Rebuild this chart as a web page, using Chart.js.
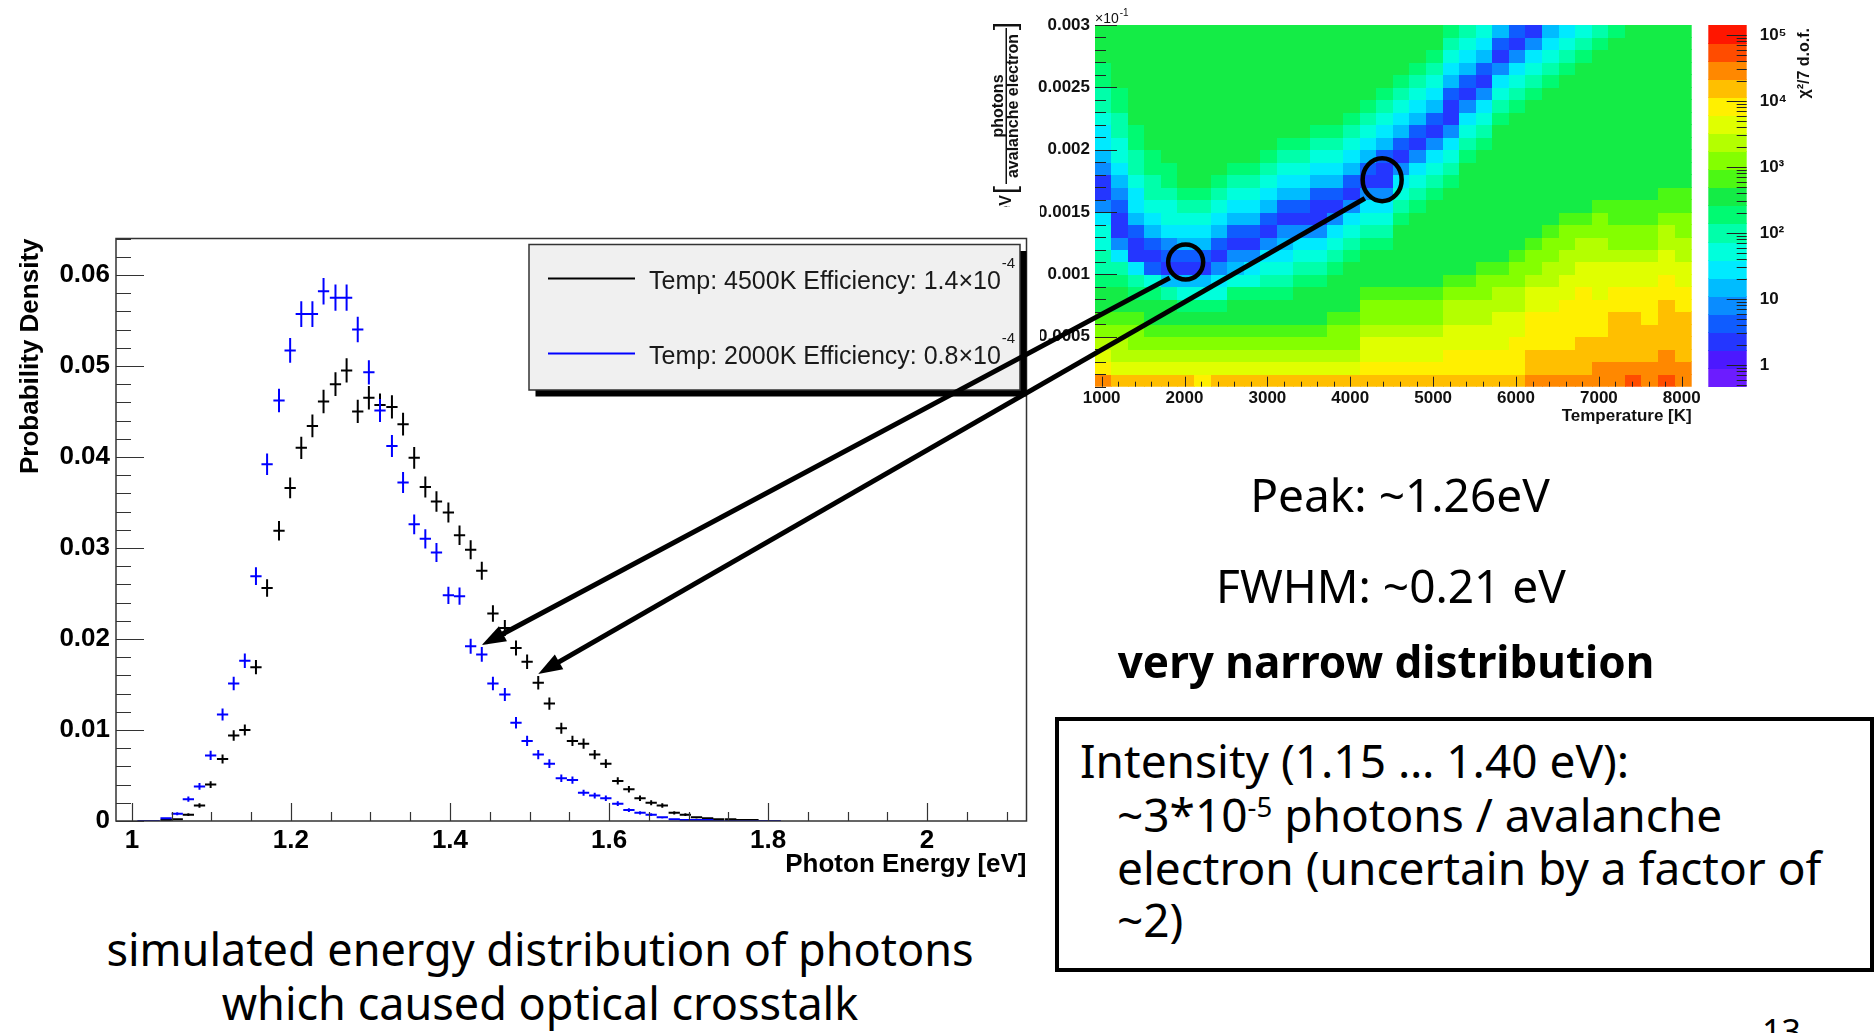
<!DOCTYPE html>
<html>
<head>
<meta charset="utf-8">
<title>Optical crosstalk photon spectrum</title>
<script src="https://cdn.jsdelivr.net/npm/chart.js@4.4.1/dist/chart.umd.min.js"></script>
<style>
  html, body { margin: 0; padding: 0; background: #fff; }
  body { position: relative; width: 1876px; height: 1033px; overflow: hidden; font-family: "Noto Sans", sans-serif; color: #000; }
  canvas { position: absolute; display: block; }
  #heat { left: 960px; top: 0; z-index: 1; }
  #spec { left: 0; top: 207px; z-index: 2; background: #fff; }
  #links { left: 0; top: 0; z-index: 5; pointer-events: none; }
  .txt { position: absolute; white-space: nowrap; line-height: 1; font-size: 46px; z-index: 3; }
  .mid { width: 1000px; text-align: center; }
  .bold { font-weight: 700; font-size: 44px; }
  .cap { font-size: 45px; }
  #box { position: absolute; left: 1055px; top: 717px; width: 819px; height: 255px; border: 4px solid #000; box-sizing: border-box; z-index: 3; }
  sup { font-size: 0.6em; vertical-align: baseline; position: relative; top: -0.55em; }
</style>
</head>
<body>
<canvas id="heat" width="916" height="427"></canvas>
<canvas id="spec" width="1040" height="673"></canvas>
<canvas id="links" width="1876" height="1033"></canvas>

<div class="txt mid" style="left:900px; top:471px;">Peak: ~1.26eV</div>
<div class="txt mid" style="left:891px; top:562px;">FWHM: ~0.21 eV</div>
<div class="txt mid bold" style="left:886px; top:639px;">very narrow distribution</div>
<div id="box"></div>
<div class="txt" style="left:1080px; top:737px;">Intensity (1.15 … 1.40 eV):</div>
<div class="txt" style="left:1117px; top:791px;">~3*10<sup>-5</sup> photons / avalanche</div>
<div class="txt" style="left:1117px; top:844px;">electron (uncertain by a factor of</div>
<div class="txt" style="left:1117px; top:896px;">~2)</div>
<div class="txt mid cap" style="left:40px; top:926px;">simulated energy distribution of photons</div>
<div class="txt mid cap" style="left:40px; top:980px;">which caused optical crosstalk</div>
<div class="txt" style="left:1762px; top:1014px; font-size:34px;">13</div>

<script>
// ---- photon spectrum (left plot) ----
const energyBins = [1.000, 1.014, 1.028, 1.043, 1.057, 1.071, 1.085, 1.099, 1.114, 1.128,
                    1.142, 1.156, 1.170, 1.185, 1.199, 1.213, 1.227, 1.241, 1.256, 1.270,
                    1.284, 1.298, 1.312, 1.327, 1.341, 1.355, 1.369, 1.383, 1.398, 1.412,
                    1.426, 1.440, 1.454, 1.469, 1.483, 1.497, 1.511, 1.525, 1.540, 1.554,
                    1.568, 1.582, 1.596, 1.611, 1.625, 1.639, 1.653, 1.667, 1.682, 1.696,
                    1.710, 1.724, 1.738, 1.753, 1.767, 1.781, 1.795, 1.809];
const density4500K = [null, null, null, 0.0001, 0.0002, 0.0007, 0.0017, 0.0040, 0.0068, 0.0094,
                      0.0100, 0.0169, 0.0256, 0.0319, 0.0366, 0.0410, 0.0434, 0.0461, 0.0480, 0.0495,
                      0.0450, 0.0465, 0.0457, 0.0455, 0.0436, 0.0399, 0.0367, 0.0351, 0.0339, 0.0314,
                      0.0298, 0.0275, 0.0228, 0.0212, 0.0190, 0.0175, 0.0152, 0.0129, 0.0102, 0.0088,
                      0.0085, 0.0073, 0.0063, 0.0044, 0.0035, 0.0025, 0.0020, 0.0017, 0.0009, 0.0007,
                      0.0004, 0.0003, 0.0002, 0.0002, 0.0001, 0.0001, null, null];
const density2000K = [null, 0, 0, 0.0003, 0.0008, 0.0024, 0.0038, 0.0072, 0.0117, 0.0151,
                      0.0176, 0.0269, 0.0392, 0.0462, 0.0517, 0.0557, 0.0557, 0.0582, 0.0575, 0.0575,
                      0.0540, 0.0493, 0.0451, 0.0412, 0.0372, 0.0326, 0.0310, 0.0295, 0.0248, 0.0247,
                      0.0192, 0.0183, 0.0151, 0.0139, 0.0108, 0.0088, 0.0073, 0.0063, 0.0047, 0.0045,
                      0.0031, 0.0028, 0.0025, 0.0019, 0.0012, 0.0009, 0.0007, 0.0004, 0.0002, 0.0001,
                      0.0001, 0.0001, 0, 0, 0, 0, 0, 0];
const seriesLabels = ['Temp: 4500K Efficiency: 1.4×10^-4', 'Temp: 2000K Efficiency: 0.8×10^-4'];
const energyTicks = [1, 1.2, 1.4, 1.6, 1.8, 2];
const densityTicks = [0, 0.01, 0.02, 0.03, 0.04, 0.05, 0.06];

// ---- chi2 map (right plot) ----
const tempBins = [1020, 1220, 1420, 1620, 1820, 2020, 2220, 2420, 2620, 2820, 3020, 3220,
                  3420, 3620, 3820, 4020, 4220, 4420, 4620, 4820, 5020, 5220, 5420, 5620,
                  5820, 6020, 6220, 6420, 6620, 6820, 7020, 7220, 7420, 7620, 7820, 8020];
const effBins = [0.00015, 0.00025, 0.00035, 0.00045, 0.00055, 0.00065, 0.00075, 0.00085,
                 0.00095, 0.00105, 0.00115, 0.00125, 0.00135, 0.00145, 0.00155, 0.00165,
                 0.00175, 0.00185, 0.00195, 0.00205, 0.00215, 0.00225, 0.00235, 0.00245,
                 0.00255, 0.00265, 0.00275, 0.00285, 0.00295];
// one string per temperature column, bottom row first; each char = colour level 0..j
const chi2Levels = [
  'hfedcbaa988776422456678899aaa', 'geddcbaa9864223456778899aaaaa', 'gedccba98622356678899aaaaaaaa',
  'gedcbaa973235678899aaaaaaaaaa', 'gedcbaa85234677899aaaaaaaaaaa', 'gedcba9752356789aaaaaaaaaaaaa',
  'fedcba9752356789aaaaaaaaaaaaa', 'gedcba97642356789aaaaaaaaaaaa', 'gedcbaa97542356789aaaaaaaaaaa',
  'gedcbaa97642356789aaaaaaaaaaa', 'gedcbaa987642356789aaaaaaaaaa', 'gedcbaa9876542356789aaaaaaaaa',
  'gedcbaaa987642356789aaaaaaaaa', 'gedcbaaa9876422356789aaaaaaaa', 'gedccbaaa987642356789aaaaaaaa',
  'gedccbaaaa987642356789aaaaaaa', 'gfeedccbaaa987642356789aaaaaa', 'gfeedccbaaa9876422356789aaaaa',
  'gfeedccbaaaaa987642356789aaaa', 'gfeedccbaaaaaa987642356789aaa', 'gfeedccbaaaaaaa987642356789aa',
  'gffeeddcbaaaaaaa9876422356789', 'gffeeddcbaaaaaaaaa98764235678', 'gffeeddccbaaaaaaaaa9876423567',
  'gffeeeddcbaaaaaaaaaaa98764235', 'gfffeeddccbaaaaaaaaaaa9876423', 'hggfffeedccbaaaaaaaaaaa987642',
  'hggfffeeddccbaaaaaaaaaaa98765', 'hggffffeeddccbaaaaaaaaaaa9876', 'hgggffffeeddcbaaaaaaaaaaaa987',
  'hhggfffeeeddccbaaaaaaaaaaaa98', 'hhggggffeedccbbaaaaaaaaaaaaa9', 'ihggggffeedccbbaaaaaaaaaaaaaa',
  'hhgggfffeedccbbaaaaaaaaaaaaaa', 'ihhggggffeeddcbbaaaaaaaaaaaaa', 'hhggggffeeddccbbaaaaaaaaaaaaa'];
const tempTicks = [1000, 2000, 3000, 4000, 5000, 6000, 7000, 8000];
const effTicks = [0.0005, 0.001, 0.0015, 0.002, 0.0025, 0.003];
const effTickLabels = ['0.0005', '0.001', '0.0015', '0.002', '0.0025', '0.003'];
const chi2Ticks = [1, 10, 100, 1000, 10000, 100000];
const chi2TickLabels = ['1', '10', '10²', '10³', '10⁴', '10⁵'];
const fitMarks = [{T: 2014, eff: 0.00110}, {T: 4385, eff: 0.00176}];
const fitLinks = [{mark: 0, dataset: 1, index: 31}, {mark: 1, dataset: 0, index: 36}];

const palette = ['#6c1cff', '#4c18ff', '#2436ff', '#0f5cff', '#0a8cff',
                 '#00bcff', '#00eaff', '#00ffdc', '#00ffaa', '#00fa72',
                 '#14ec46', '#4cf814', '#84ff00', '#b4ff00', '#e0ff00',
                 '#fff000', '#ffbf00', '#ff8800', '#ff4c00', '#ff1600'];
const ARIAL = '"Liberation Sans", Arial, sans-serif';
const errScale = 0.006;   // error bar half length ~ sqrt(content)
const halfBin = 0.0071;
const markRadius = [[17.5, 17.5], [19.5, 21.5]];

// crosses: horizontal = bin width, vertical = error
const crossPlugin = {
  id: 'crosses',
  afterDatasetsDraw(chart) {
    const {ctx, chartArea: a, scales: {x, y}} = chart;
    ctx.save();
    ctx.beginPath();
    ctx.rect(a.left, a.top, a.right - a.left, a.bottom - a.top);
    ctx.clip();
    chart.data.datasets.forEach(ds => {
      ctx.strokeStyle = ds.borderColor;
      ctx.lineWidth = 2;
      ctx.beginPath();
      ds.data.forEach(p => {
        if (p.y === null || p.y === undefined) return;
        const px = x.getPixelForValue(p.x), py = y.getPixelForValue(p.y);
        const e = errScale * Math.sqrt(p.y);
        ctx.moveTo(x.getPixelForValue(p.x - halfBin), py);
        ctx.lineTo(x.getPixelForValue(p.x + halfBin), py);
        ctx.moveTo(px, y.getPixelForValue(p.y + e));
        ctx.lineTo(px, y.getPixelForValue(p.y - e));
      });
      ctx.stroke();
    });
    ctx.restore();
  }
};

const specFrame = {
  id: 'specFrame',
  afterDraw(chart) {
    const {ctx, chartArea: a, scales: {x, y}} = chart;
    ctx.save();
    ctx.strokeStyle = '#333';
    ctx.lineWidth = 1.5;
    ctx.strokeRect(a.left, a.top, a.right - a.left, a.bottom - a.top);
    ctx.beginPath();
    for (let k = 0; k * 0.002 <= y.max; k++) {
      const py = Math.round(y.getPixelForValue(k * 0.002)) + 0.5;
      ctx.moveTo(a.left, py);
      ctx.lineTo(a.left + (k % 5 === 0 ? 28 : 15), py);
    }
    for (let k = 0; 1 + k * 0.05 <= x.max; k++) {
      const px = Math.round(x.getPixelForValue(1 + k * 0.05)) + 0.5;
      ctx.moveTo(px, a.bottom);
      ctx.lineTo(px, a.bottom - (k % 4 === 0 ? 18 : 9));
    }
    ctx.lineWidth = 1.2;
    ctx.stroke();

    // legend box with shadow
    const leg = {x: 529, y: 37.5, w: 491, h: 145.5, shadow: 6.5, rows: [71.5, 146.5], lineX: [548, 635], textX: 649};
    ctx.fillStyle = '#000';
    ctx.fillRect(leg.x + leg.shadow, leg.y + leg.shadow, leg.w, leg.h);
    ctx.fillStyle = '#f0f0f0';
    ctx.fillRect(leg.x, leg.y, leg.w, leg.h);
    ctx.strokeStyle = '#333';
    ctx.lineWidth = 1.5;
    ctx.strokeRect(leg.x, leg.y, leg.w, leg.h);
    chart.data.datasets.forEach((ds, i) => {
      const ly = leg.rows[i];
      ctx.strokeStyle = ds.borderColor;
      ctx.lineWidth = 2;
      ctx.beginPath();
      ctx.moveTo(leg.lineX[0], ly);
      ctx.lineTo(leg.lineX[1], ly);
      ctx.stroke();
      const [main, sup] = ds.label.split('^');
      ctx.fillStyle = '#1a1a1a';
      ctx.textAlign = 'left';
      ctx.textBaseline = 'alphabetic';
      ctx.font = '25px ' + ARIAL;
      ctx.fillText(main, leg.textX, ly + 10);
      const w = ctx.measureText(main).width;
      if (sup) {
        ctx.font = '15px ' + ARIAL;
        ctx.fillText(sup, leg.textX + w + 1, ly - 11);
      }
    });
    ctx.restore();
  }
};

const specChart = new Chart(document.getElementById('spec'), {
  type: 'scatter',
  data: {
    datasets: [
      {label: seriesLabels[0], data: energyBins.map((x, i) => ({x, y: density4500K[i]})),
       borderColor: '#000000', backgroundColor: '#000000', pointRadius: 0, showLine: false},
      {label: seriesLabels[1], data: energyBins.map((x, i) => ({x, y: density2000K[i]})),
       borderColor: '#0000ff', backgroundColor: '#0000ff', pointRadius: 0, showLine: false}
    ]
  },
  options: {
    responsive: false,
    animation: false,
    devicePixelRatio: 1,
    layout: {padding: {top: 31.5, right: 13.5, left: 0, bottom: 0}},
    plugins: {legend: {display: false}, tooltip: {enabled: false}},
    scales: {
      x: {
        type: 'linear', min: 0.98, max: 2.125,
        afterBuildTicks: s => { s.ticks = energyTicks.map(v => ({value: v})); },
        afterFit: s => { s.height = 59; },
        grid: {display: false, drawTicks: false},
        border: {display: false},
        ticks: {padding: 4, color: '#000', font: {family: ARIAL, size: 26, weight: 'bold'},
                maxRotation: 0, autoSkip: false, callback: v => String(v)},
        title: {display: true, text: 'Photon Energy [eV]', align: 'end', color: '#000',
                font: {family: ARIAL, size: 26, weight: 'bold'}, padding: {top: 0, bottom: 0}}
      },
      y: {
        type: 'linear', min: 0, max: 0.064,
        afterBuildTicks: s => { s.ticks = densityTicks.map(v => ({value: v})); },
        afterFit: s => { s.width = 116; },
        grid: {display: false, drawTicks: false},
        border: {display: false},
        ticks: {padding: 6, color: '#000', font: {family: ARIAL, size: 26, weight: 'bold'},
                autoSkip: false, callback: v => (v === 0 ? '0' : v.toFixed(2))},
        title: {display: true, text: 'Probability Density', align: 'end', color: '#000',
                font: {family: ARIAL, size: 26, weight: 'bold'}, padding: {top: 15, bottom: 0}}
      }
    }
  },
  plugins: [crossPlugin, specFrame]
});

// ---- chi2 map ----
const heatPlugin = {
  id: 'heatMap',
  beforeDatasetsDraw(chart) {
    const {ctx, chartArea: a, scales: {x, y}} = chart;
    ctx.save();
    ctx.beginPath();
    ctx.rect(a.left, a.top, a.right - a.left, a.bottom - a.top);
    ctx.clip();
    chi2Levels.forEach((col, c) => {
      const x0 = Math.floor(x.getPixelForValue(tempBins[c] - 100));
      const x1 = Math.ceil(x.getPixelForValue(tempBins[c] + 100));
      for (let r = 0; r < col.length && r < effBins.length; r++) {
        const y0 = Math.floor(y.getPixelForValue(effBins[r] + 0.00005));
        const y1 = Math.ceil(y.getPixelForValue(effBins[r] - 0.00005));
        ctx.fillStyle = palette[parseInt(col[r], 20)];
        ctx.fillRect(x0, y0, x1 - x0, y1 - y0);
      }
    });
    ctx.restore();
  },
  afterDraw(chart) {
    const {ctx, chartArea: a, scales: {x, y, z}} = chart;
    ctx.save();
    // axis ticks (inside)
    ctx.strokeStyle = '#222';
    ctx.lineWidth = 1;
    ctx.beginPath();
    for (let k = 1; k * 0.0001 <= y.max + 1e-9; k++) {
      const py = Math.round(y.getPixelForValue(k * 0.0001)) + 0.5;
      ctx.moveTo(a.left, py);
      ctx.lineTo(a.left + (k % 5 === 0 ? 22 : 11), py);
    }
    for (let k = 0; 1000 + k * 200 <= x.max; k++) {
      const px = Math.round(x.getPixelForValue(1000 + k * 200)) + 0.5;
      ctx.moveTo(px, a.bottom);
      ctx.lineTo(px, a.bottom - (k % 5 === 0 ? 10 : 5));
    }
    ctx.stroke();

    // colour bar
    const bx0 = z.left + 16.6, bx1 = z.left + 55;
    const lmin = Math.log10(z.min), lmax = Math.log10(z.max), step = (lmax - lmin) / palette.length;
    palette.forEach((col, i) => {
      const ya = z.getPixelForValue(Math.pow(10, lmin + i * step));
      const yb = z.getPixelForValue(Math.pow(10, lmin + (i + 1) * step));
      ctx.fillStyle = col;
      ctx.fillRect(bx0, Math.floor(yb), bx1 - bx0, Math.ceil(ya) - Math.floor(yb));
    });
    ctx.beginPath();
    for (let d = -1; d <= 5; d++) {
      for (let m = 1; m <= 9; m++) {
        const v = m * Math.pow(10, d);
        if (v < z.min || v > z.max) continue;
        const py = Math.round(z.getPixelForValue(v)) + 0.5;
        ctx.moveTo(bx1, py);
        ctx.lineTo(bx1 - (m === 1 ? 20 : 10), py);
      }
    }
    ctx.stroke();

    ctx.fillStyle = '#111';
    // colour bar title
    ctx.save();
    ctx.translate(z.left + 113, a.top + 3);
    ctx.rotate(-Math.PI / 2);
    ctx.textAlign = 'right';
    ctx.textBaseline = 'middle';
    ctx.font = 'bold 16px ' + ARIAL;
    ctx.fillText('χ²/7 d.o.f.', 0, 0);
    ctx.restore();

    // y title: eV [ photons / avalanche electron ]
    ctx.save();
    ctx.translate(42, 106);
    ctx.rotate(-Math.PI / 2);
    ctx.textAlign = 'center';
    ctx.textBaseline = 'alphabetic';
    ctx.font = 'bold 16px ' + ARIAL;
    ctx.fillText('photons', 0, 1);
    ctx.fillRect(-78, 3.5, 156, 1.5);
    ctx.fillText('avalanche electron', 0, 16);
    ctx.font = '30px ' + ARIAL;
    ctx.textBaseline = 'middle';
    ctx.fillText(']', 80, 5);
    ctx.fillText('[', -84, 5);
    ctx.font = 'bold 16px ' + ARIAL;
    ctx.textAlign = 'right';
    ctx.textBaseline = 'alphabetic';
    ctx.fillText('eV', -89, 9);
    ctx.restore();

    // exponent of y axis
    ctx.textAlign = 'left';
    ctx.textBaseline = 'alphabetic';
    ctx.font = '14px ' + ARIAL;
    ctx.fillText('×10', a.left, a.top - 2);
    const w = ctx.measureText('×10').width;
    ctx.font = '10px ' + ARIAL;
    ctx.fillText('-1', a.left + w + 1, a.top - 9);

    // fit markers
    ctx.strokeStyle = '#000';
    ctx.lineWidth = 4.5;
    fitMarks.forEach((m, i) => {
      ctx.beginPath();
      ctx.ellipse(x.getPixelForValue(m.T), y.getPixelForValue(m.eff), markRadius[i][0], markRadius[i][1], 0, 0, Math.PI * 2);
      ctx.stroke();
    });
    ctx.restore();
  }
};

const heatChart = new Chart(document.getElementById('heat'), {
  type: 'scatter',
  data: {datasets: []},
  options: {
    responsive: false,
    animation: false,
    devicePixelRatio: 1,
    layout: {padding: {top: 25, left: 0, right: 0, bottom: 0}},
    plugins: {legend: {display: false}, tooltip: {enabled: false}},
    scales: {
      x: {
        type: 'linear', min: 920, max: 8120,
        afterBuildTicks: s => { s.ticks = tempTicks.map(v => ({value: v})); },
        afterFit: s => { s.height = 40.3; },
        grid: {display: false, drawTicks: false},
        border: {display: false},
        ticks: {padding: 1, color: '#111', font: {family: ARIAL, size: 17, weight: 'bold'},
                maxRotation: 0, autoSkip: false, callback: v => String(v)},
        title: {display: true, text: 'Temperature [K]', align: 'end', color: '#111',
                font: {family: ARIAL, size: 17, weight: 'bold'}, padding: {top: 0, bottom: 0}}
      },
      y: {
        type: 'linear', min: 0.0001, max: 0.003,
        afterBuildTicks: s => { s.ticks = effTicks.map(v => ({value: v})); },
        afterFit: s => { s.width = 135; },
        grid: {display: false, drawTicks: false},
        border: {display: false},
        ticks: {padding: 5, color: '#111', font: {family: ARIAL, size: 17, weight: 'bold'},
                autoSkip: false, callback: (v, i) => effTickLabels[i]}
      },
      z: {
        type: 'logarithmic', position: 'right', min: Math.pow(10, -0.33), max: Math.pow(10, 5.15),
        afterBuildTicks: s => { s.ticks = chi2Ticks.map(v => ({value: v})); },
        afterFit: s => { s.width = 184.3; },
        grid: {display: false, drawTicks: true, tickLength: 64},
        border: {display: false},
        ticks: {padding: 4, color: '#111', font: {family: ARIAL, size: 17, weight: 'bold'},
                autoSkip: false, callback: (v, i) => chi2TickLabels[i]}
      }
    }
  },
  plugins: [heatPlugin]
});

// ---- arrows linking the fit minima to the spectra ----
(function drawLinks() {
  const hc = document.getElementById('heat'), sc = document.getElementById('spec');
  const ctx = document.getElementById('links').getContext('2d');
  const head = 24, headHalf = 8.5, gap = 5;
  ctx.fillStyle = '#000';
  ctx.strokeStyle = '#000';
  ctx.lineWidth = 5;
  fitLinks.forEach(link => {
    const m = fitMarks[link.mark];
    const cx = hc.offsetLeft + heatChart.scales.x.getPixelForValue(m.T);
    const cy = hc.offsetTop + heatChart.scales.y.getPixelForValue(m.eff);
    const p = specChart.data.datasets[link.dataset].data[link.index];
    const tx = sc.offsetLeft + specChart.scales.x.getPixelForValue(p.x);
    const ty = sc.offsetTop + specChart.scales.y.getPixelForValue(p.y + errScale * Math.sqrt(p.y)) - 2;
    const sx = cx - (markRadius[link.mark][0] + gap) * Math.SQRT1_2;
    const sy = cy + (markRadius[link.mark][1] + gap) * Math.SQRT1_2;
    const ang = Math.atan2(ty - sy, tx - sx);
    const bx = tx - head * Math.cos(ang), by = ty - head * Math.sin(ang);
    ctx.beginPath();
    ctx.moveTo(sx, sy);
    ctx.lineTo(bx + 2 * Math.cos(ang), by + 2 * Math.sin(ang));
    ctx.stroke();
    ctx.beginPath();
    ctx.moveTo(tx, ty);
    ctx.lineTo(bx - headHalf * Math.sin(ang), by + headHalf * Math.cos(ang));
    ctx.lineTo(bx + headHalf * Math.sin(ang), by - headHalf * Math.cos(ang));
    ctx.closePath();
    ctx.fill();
  });
})();
</script>
</body>
</html>
